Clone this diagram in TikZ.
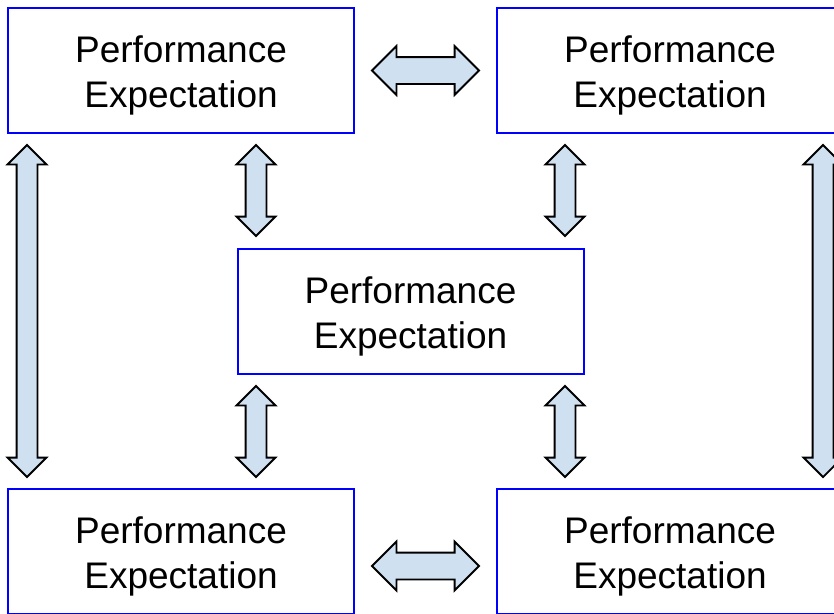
\documentclass[tikz,border=0pt]{standalone}
\usepackage{fontspec}
\setmainfont{Liberation Sans}
\usetikzlibrary{shapes.arrows}
\definecolor{boxblue}{RGB}{0,0,255}
\definecolor{arrowfill}{RGB}{207,224,241}
\newcommand{\boxstrut}{\rule{0pt}{36pt}}
\begin{document}
\begin{tikzpicture}[
   x=1pt, y=-1pt,
   box/.style={rectangle, draw=boxblue, line width=2pt, minimum width=346pt, minimum height=125pt, align=center, font=\fontsize{37}{45}\selectfont},
   dblarrow/.style={double arrow, draw=black, line width=1.8pt, fill=arrowfill, inner sep=0pt, text height=19pt, text depth=0pt, double arrow head extend=9pt},
   widearrow/.style={dblarrow, text height=25pt, double arrow head extend=11pt},
   vert/.style={rotate=90}
]
\clip (0,0) rectangle (834,613);
\useasboundingbox (0,0) rectangle (834,613);

% Boxes
\node[box] (tl) at (181,70.5) {\boxstrut Performance\\Expectation};
\node[box] (tr) at (670,70.5) {\boxstrut Performance\\Expectation};
\node[box] (mid) at (410.5,311.5) {\boxstrut Performance\\Expectation};
\node[box] (bl) at (181,551.5) {\boxstrut Performance\\Expectation};
\node[box] (br) at (670,551.5) {\boxstrut Performance\\Expectation};

% Horizontal arrows
\node[widearrow, minimum height=107pt] (top) at (425.5,70.5) {};
\node[widearrow, minimum height=107pt] (bottom) at (425.5,566) {};

% Short vertical arrows
\node[dblarrow, vert, minimum height=91pt] (tlmid) at (256,190.5) {};
\node[dblarrow, vert, minimum height=91pt] (trmid) at (565,190.5) {};
\node[dblarrow, vert, minimum height=91pt] (midbl) at (256,431.5) {};
\node[dblarrow, vert, minimum height=91pt] (midbr) at (565,431.5) {};

% Long vertical arrows
\node[dblarrow, vert, minimum height=332pt] (left) at (27,311) {};
\node[dblarrow, vert, minimum height=332pt] (right) at (823,311) {};

\end{tikzpicture}
\end{document}
